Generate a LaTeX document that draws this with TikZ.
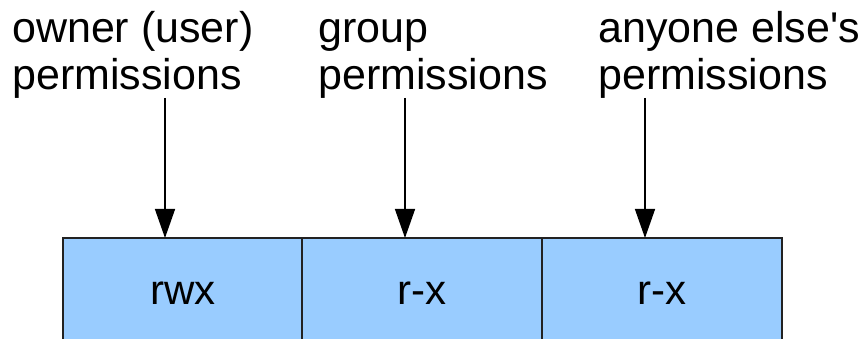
\documentclass[tikz,border=0pt]{standalone}
\usepackage{fontspec}
\setmainfont{Liberation Sans}
\newfontfamily\plainfont{Liberation Sans}
\usetikzlibrary{arrows.meta}
\definecolor{boxblue}{HTML}{99CCFF}
\definecolor{boxline}{HTML}{222222}
\begin{document}
\begin{tikzpicture}[x=1pt,y=-1pt,
  permbox/.style={draw=boxline, line width=1.8pt, fill=boxblue, anchor=north west,
    minimum width=240pt, minimum height=110pt, inner sep=0pt, outer sep=0pt,
    font=\plainfont\fontsize{42}{46}\selectfont},
  lbl/.style={anchor=base west, align=left, inner sep=0pt,
    font=\plainfont\fontsize{43}{47}\selectfont},
  arr/.style={line width=1.4pt, -{Triangle[length=29pt,width=20pt]}}]
\useasboundingbox (0,0) rectangle (860,339);
\node[permbox] (b1) at (63,238) {\raisebox{-8pt}{rwx}};
\node[permbox] (b2) at (302,238) {\raisebox{-8pt}{r-x}};
\node[permbox] (b3) at (542,238) {\raisebox{-8pt}{r-x}};
\node[lbl] (l1) at (12,90) {owner (user)\\permissions};
\node[lbl] (l2) at (318,90) {group\\permissions};
\node[lbl] (l3) at (598,90) {anyone else's\\permissions};
\coordinate (c1) at (165,98);
\coordinate (c2) at (405,98);
\coordinate (c3) at (645,98);
\draw[arr] (c1) -- (c1 |- b1.north);
\draw[arr] (c2) -- (c2 |- b2.north);
\draw[arr] (c3) -- (c3 |- b3.north);
\end{tikzpicture}
\end{document}
